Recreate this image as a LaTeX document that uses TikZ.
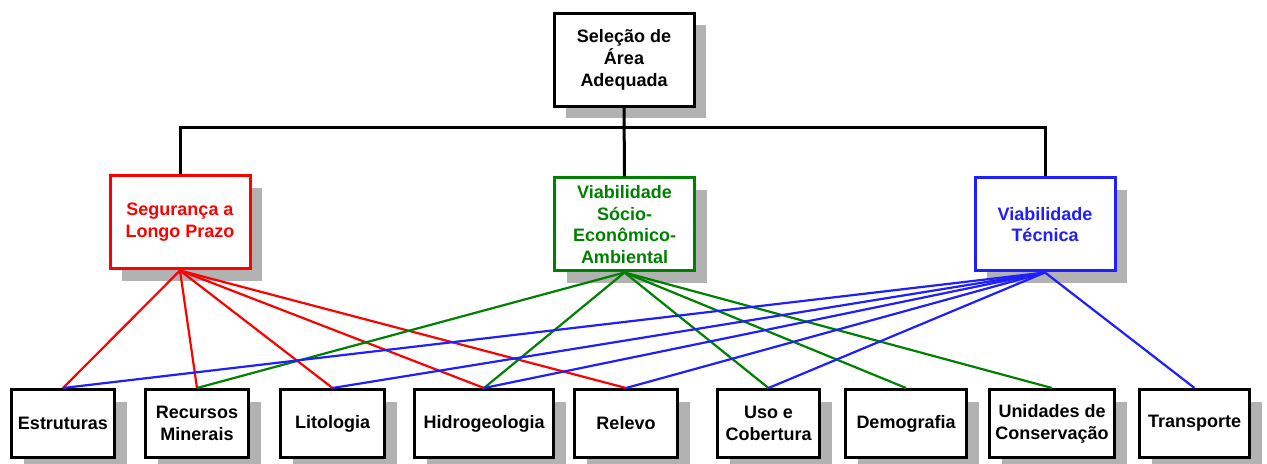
\documentclass[tikz,border=0pt]{standalone}
\usepackage{fontspec}
\setmainfont{Liberation Sans}
\usepackage{xcolor}
\usetikzlibrary{positioning, shadows}

\definecolor{segred}{RGB}{255,0,0}
\definecolor{viagreen}{RGB}{0,128,0}
\definecolor{tecblue}{RGB}{30,30,255}
\definecolor{shadowgray}{RGB}{178,178,178}

\begin{document}
\begin{tikzpicture}[
    x=0.5pt, y=-0.5pt,
    box/.style={rectangle, draw=black, line width=1.5pt, fill=white,
        align=center, inner sep=1pt,
        font=\fontsize{9}{10.9}\selectfont\bfseries,
        drop shadow={shadow xshift=6pt, shadow yshift=-6pt, fill=shadowgray, opacity=1}},
    topbox/.style={box, minimum width=70pt, minimum height=46.5pt},
    crit/.style={box, minimum width=70pt, minimum height=46.5pt},
    leaf/.style={box, minimum height=34pt},
    trunk/.style={draw=black, line width=1.5pt},
    redline/.style={draw=segred, line width=1.1pt},
    greenline/.style={draw=viagreen, line width=1.1pt},
    blueline/.style={draw=tecblue, line width=1.1pt}
]
\useasboundingbox (0,0) rectangle (1267,464);

% Goal
\node[topbox] (goal) at (624,60) {Seleção de\\Área\\Adequada};

% Criteria
\node[crit, draw=segred, text=segred] (seg) at (180,222.5) {Segurança a\\Longo Prazo};
\node[crit, draw=viagreen, text=viagreen] (soc) at (624.5,224.5) {Viabilidade\\Sócio-\\Econômico-\\Ambiental};
\node[crit, draw=tecblue, text=tecblue] (tec) at (1045,224.5) {Viabilidade\\Técnica};

% Factors
\node[leaf, minimum width=51.5pt] (estr) at (63,423.5) {Estruturas};
\node[leaf, minimum width=51.5pt] (recm) at (197,423.5) {Recursos\\Minerais};
\node[leaf, minimum width=52pt] (lito) at (332.5,423.5) {Litologia};
\node[leaf, minimum width=69.5pt] (hidr) at (484,423.5) {Hidrogeologia};
\node[leaf, minimum width=51.5pt] (relv) at (626,423.5) {Relevo};
\node[leaf, minimum width=51pt] (usoc) at (768.5,423.5) {Uso e\\Cobertura};
\node[leaf, minimum width=60.5pt] (demo) at (906,423.5) {Demografia};
\node[leaf, minimum width=62.5pt] (unid) at (1052,423.5) {Unidades de\\Conservação};
\node[leaf, minimum width=55pt] (tran) at (1194.5,423.5) {Transporte};

% Hierarchy
\coordinate (bus) at (624,128);
\draw[trunk] (goal.south) -- (soc.north);
\draw[trunk] (seg.north) -- (seg.north |- bus) -- (tec.north |- bus) -- (tec.north);

% Links from Segurança a Longo Prazo
\draw[redline] (seg.south) -- (estr.north);
\draw[redline] (seg.south) -- (recm.north);
\draw[redline] (seg.south) -- (lito.north);
\draw[redline] (seg.south) -- (hidr.north);
\draw[redline] (seg.south) -- (relv.north);

% Links from Viabilidade Sócio-Econômico-Ambiental
\draw[greenline] (soc.south) -- (recm.north);
\draw[greenline] (soc.south) -- (hidr.north);
\draw[greenline] (soc.south) -- (usoc.north);
\draw[greenline] (soc.south) -- (demo.north);
\draw[greenline] (soc.south) -- (unid.north);

% Links from Viabilidade Técnica
\draw[blueline] (tec.south) -- (estr.north);
\draw[blueline] (tec.south) -- (lito.north);
\draw[blueline] (tec.south) -- (hidr.north);
\draw[blueline] (tec.south) -- (relv.north);
\draw[blueline] (tec.south) -- (usoc.north);
\draw[blueline] (tec.south) -- (tran.north);

\end{tikzpicture}
\end{document}
